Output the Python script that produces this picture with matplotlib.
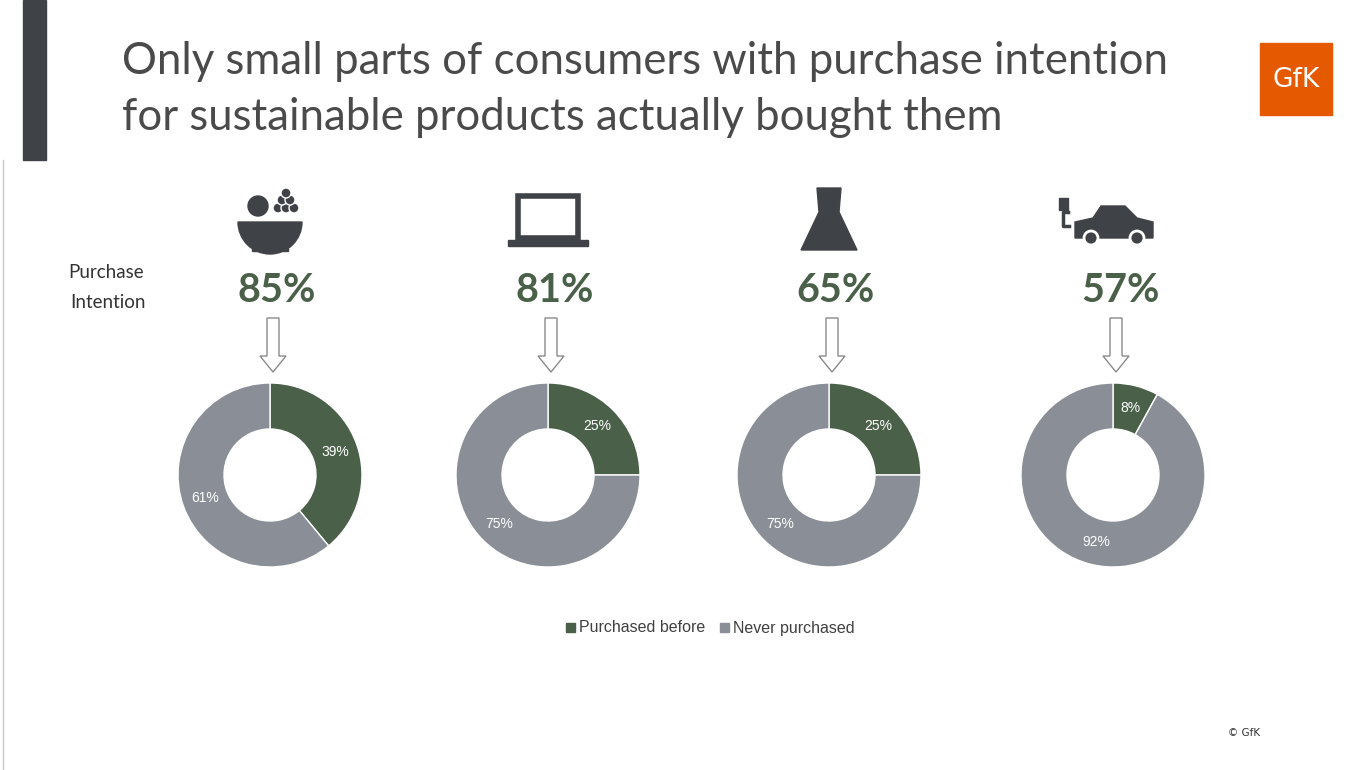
import matplotlib.pyplot as plt
from matplotlib.patches import Rectangle, Polygon, Circle, Wedge, FancyArrow

W, H = 1372, 770
categories = ['Food', 'Electronics', 'Clothing', 'Cars']
intention = [85, 81, 65, 57]
purchased = [39, 25, 25, 8]
never = [61, 75, 75, 92]
centers_x = [270, 548, 829, 1113]

GREEN = '#4a6049'
GREY = '#8a8e96'
DARK = '#3f4247'

fig = plt.figure(figsize=(W / 100, H / 100), dpi=100)
bg = fig.add_axes([0, 0, 1, 1])
bg.set_xlim(0, W)
bg.set_ylim(H, 0)
bg.axis('off')

# left decoration
bg.add_patch(Rectangle((23, 0), 23, 160, color=DARK))
bg.plot([3, 3], [160, H], color='#c8c8c8', lw=1)

bg.text(122, 62, 'Only small parts of consumers with purchase intention', fontsize=31.5,
        family='Lato', color='#4a4a4a', va='center')
bg.text(122, 117, 'for sustainable products actually bought them', fontsize=31.5,
        family='Lato', color='#4a4a4a', va='center')

# GfK logo
bg.add_patch(Rectangle((1260, 43), 72, 72, color='#e55a00'))
bg.text(1296, 80, 'GfK', color='white', fontsize=19, ha='center', va='center', family='DejaVu Sans')

bg.text(106, 273, 'Purchase', fontsize=13.5, ha='center', va='center', family='Lato', color='#333333')
bg.text(108, 303, 'Intention', fontsize=13.5, ha='center', va='center', family='Lato', color='#333333')

# icons (simplified)
cx = centers_x[0]
bg.add_patch(Wedge((cx, 222), 32, 0, 180, color=DARK))
bg.add_patch(Circle((cx - 12, 206), 10, color=DARK))
for dx, dy in [(8, 208), (16, 208), (24, 208), (12, 200), (20, 200), (16, 193)]:
    bg.add_patch(Circle((cx + dx, dy), 5, color=DARK, ec='white', lw=1))
bg.add_patch(Rectangle((cx - 18, 248), 36, 3, color=DARK))
cx = centers_x[1]
bg.add_patch(Rectangle((cx - 30, 196), 60, 42, fill=False, ec=DARK, lw=4))
bg.add_patch(Rectangle((cx - 40, 240), 80, 6, color=DARK))
cx = centers_x[2]
bg.add_patch(Polygon([(cx - 12, 188), (cx + 12, 188), (cx + 10, 212), (cx + 28, 250),
                      (cx - 28, 250), (cx - 10, 212)], color=DARK))
cx = centers_x[3]
bg.add_patch(Polygon([(cx - 38, 238), (cx - 38, 222), (cx - 20, 218), (cx - 12, 206), (cx + 12, 206),
                      (cx + 24, 218), (cx + 40, 222), (cx + 40, 238)], color=DARK))
bg.add_patch(Circle((cx - 22, 238), 7, color=DARK, ec='white', lw=2))
bg.add_patch(Circle((cx + 24, 238), 7, color=DARK, ec='white', lw=2))
bg.plot([cx - 44, cx - 50, cx - 50, cx - 45], [226, 226, 212, 212], color=DARK, lw=2.5)
bg.add_patch(Rectangle((cx - 54, 198), 9, 12, color=DARK))

for x, v in zip(centers_x, intention):
    bg.text(x + 7, 290, f'{v}%', fontsize=28.5, fontweight='bold', color=GREEN,
            ha='center', va='center', family='Lato')
    bg.add_patch(FancyArrow(x + 3, 318, 0, 54, width=12, head_width=26, head_length=16,
                            length_includes_head=True, fc='white', ec='#8a8a8a', lw=1))

# donuts
R = 92
for x, p, n in zip(centers_x, purchased, never):
    ax = fig.add_axes([(x - R) / W, (H - 475 - R) / H, 2 * R / W, 2 * R / H])
    ax.pie([p, n], colors=[GREEN, GREY], startangle=90, counterclock=False,
           wedgeprops=dict(width=0.5, edgecolor='white', linewidth=1),
           autopct=lambda s: f'{s:.0f}%', pctdistance=0.75,
           textprops=dict(color='white', fontsize=10, family='Liberation Sans'))
    ax.set_xlim(-1, 1)
    ax.set_ylim(-1, 1)
    ax.axis('off')

# legend
bg.add_patch(Rectangle((566, 623), 9, 9, color=GREEN))
bg.text(579, 628, 'Purchased before', fontsize=11.5, va='center', color='#404040', family='Liberation Sans')
bg.add_patch(Rectangle((720, 623), 9, 9, color=GREY))
bg.text(733, 628, 'Never purchased', fontsize=11.5, va='center', color='#404040', family='Liberation Sans')

bg.text(1228, 733, '© GfK', fontsize=7.5, va='center', color='#333333')

fig.savefig('out.png', dpi=100)
